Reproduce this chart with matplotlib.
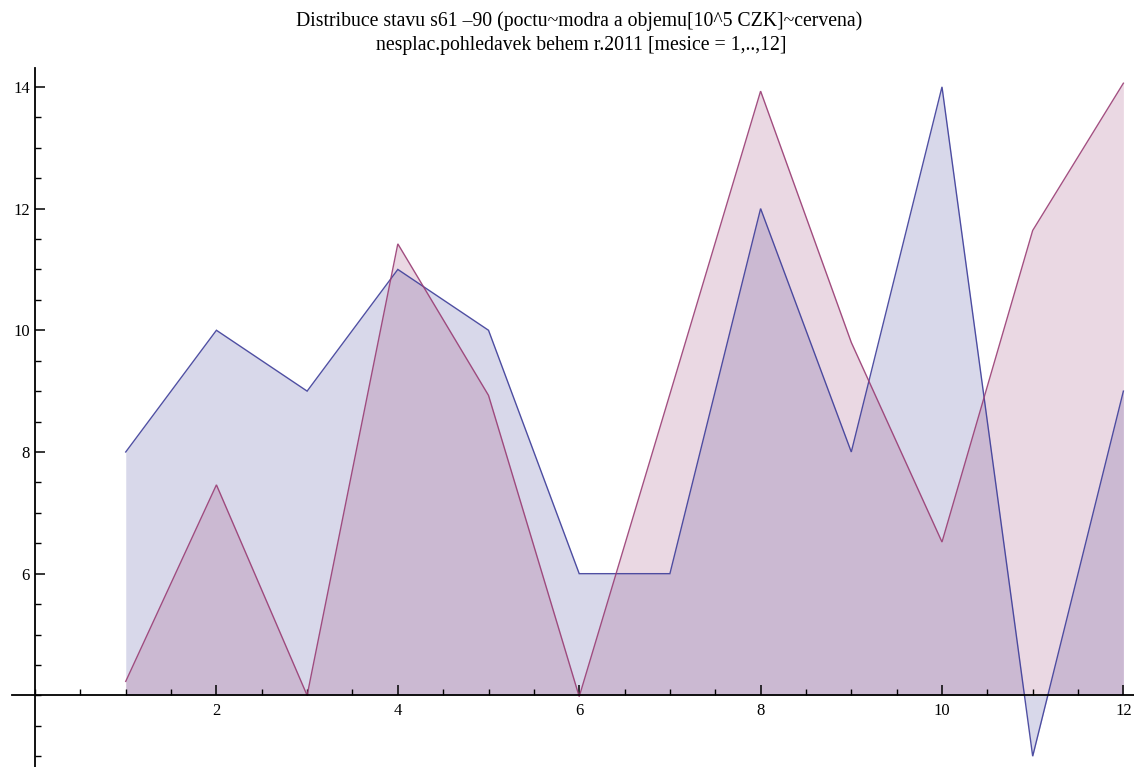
import matplotlib
matplotlib.use("Agg")
import matplotlib.pyplot as plt
from matplotlib.ticker import MultipleLocator, FixedLocator

# Months of 2011 and the two monitored quantities
months = [1, 2, 3, 4, 5, 6, 7, 8, 9, 10, 11, 12]
count_blue = [8, 10, 9, 11, 10, 6, 6, 12, 8, 14, 3, 9]
volume_red = [4.23, 7.46, 4.0, 11.42, 8.93, 3.98, 8.95, 13.93, 9.8, 6.52, 11.64, 14.06]

base_level = 4
x_major = [2, 4, 6, 8, 10, 12]
y_major = [6, 8, 10, 12, 14]

title_lines = [
    "Distribuce stavu s61 \u201390 (poctu~modra a objemu[10^5 CZK]~cervena)",
    "nesplac.pohledavek behem r.2011 [mesice = 1,..,12]",
]

blue_line = (0.24, 0.24, 0.6)
red_line = (0.6, 0.24, 0.456)

W, H = 1134, 767
fig = plt.figure(figsize=(W / 100, H / 100), dpi=100)
plt.rcParams["font.family"] = ["Liberation Serif", "DejaVu Serif"]

ax = fig.add_axes([12 / W, 0, 1 - 12 / W, 699 / H])
ax.set_xlim(-0.254, 12.117)
ax.set_ylim(2.823, 14.31)
ax.patch.set_alpha(0)

ax.fill_between(months, count_blue, base_level, color=blue_line, alpha=0.2, lw=0)
ax.fill_between(months, volume_red, base_level, color=red_line, alpha=0.2, lw=0)
ax.plot(months, count_blue, color=blue_line, lw=1.0, alpha=0.9, solid_joinstyle="miter")
ax.plot(months, volume_red, color=red_line, lw=1.0, alpha=0.9, solid_joinstyle="miter")

for side in ("top", "right"):
    ax.spines[side].set_visible(False)
ax.spines["left"].set_position(("data", 0))
ax.spines["bottom"].set_position(("data", base_level))
ax.spines["left"].set_linewidth(1.3)
ax.spines["bottom"].set_linewidth(1.3)

ax.xaxis.set_major_locator(FixedLocator(x_major))
ax.yaxis.set_major_locator(FixedLocator(y_major))
ax.xaxis.set_minor_locator(MultipleLocator(0.5))
ax.yaxis.set_minor_locator(MultipleLocator(0.5))
ax.set_xticklabels([str(v) for v in x_major])
ax.set_yticklabels([str(v) for v in y_major])
ax.tick_params(which="major", direction="in", length=7, width=1.1, labelsize=12)
ax.tick_params(which="minor", direction="in", length=4.5, width=1.0)
ax.tick_params(axis="y", which="major", pad=3.6)
ax.tick_params(axis="x", which="major", pad=5.5)

fig.text(0.511, 1 - 26 / H, title_lines[0], ha="center", va="baseline", fontsize=14.2)
fig.text(0.513, 1 - 50 / H, title_lines[1], ha="center", va="baseline", fontsize=14.2)

fig.savefig("out.png", dpi=100, facecolor="white")
